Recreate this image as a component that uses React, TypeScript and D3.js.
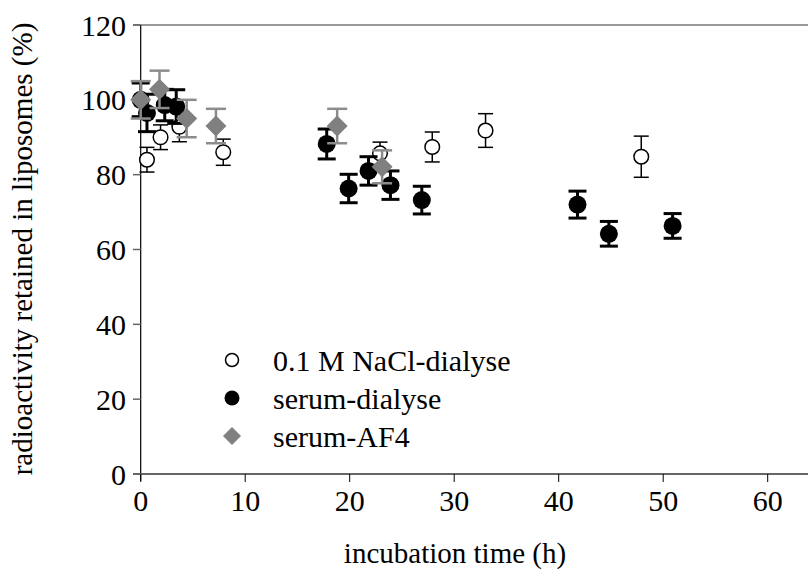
import React from "react";
import * as d3 from "d3";

const naclTime = [0.6, 1.9, 3.7, 7.9, 22.9, 27.9, 33, 47.9];
const naclValue = [84, 90, 92.8, 86, 85.7, 87.4, 91.8, 84.8];
const naclErr = [3.3, 3.3, 4, 3.5, 3, 4, 4.5, 5.5];

const serumTime = [0, 0.6, 2.3, 3.4, 17.8, 19.9, 21.8, 23.9, 26.9, 41.8, 44.8, 50.9];
const serumValue = [100, 96.5, 98.6, 98.2, 88.2, 76.3, 81, 77.2, 73.2, 72, 64.2, 66.3];
const serumErr = [4.5, 5, 4.2, 4.5, 4, 3.8, 3.8, 3.8, 3.7, 3.6, 3.3, 3.3];

const af4Time = [0, 1.8, 4.4, 7.2, 18.8, 23.1];
const af4Value = [100, 102.8, 95, 93, 93, 82.1];
const af4Err = [5, 5, 5, 4.6, 4.6, 4.4];

const xTicks = [0, 10, 20, 30, 40, 50, 60];
const yTicks = [0, 20, 40, 60, 80, 100, 120];
const legendLabels = ["0.1 M NaCl-dialyse", "serum-dialyse", "serum-AF4"];

const W = 808;
const H = 582;
const FONT = "'Liberation Serif', 'Times New Roman', serif";

export default function App() {
  const x = d3.scaleLinear().domain([0, 60]).range([140.7, 767.7]);
  const y = d3.scaleLinear().domain([0, 120]).range([474, 25]);

  const errBars = (
    t: number[],
    v: number[],
    e: number[],
    color: string,
    sw: number,
    cap: number,
    key: string
  ) =>
    t.map((ti, i) => {
      const cx = x(ti);
      const y1 = y(v[i] + e[i]);
      const y2 = y(v[i] - e[i]);
      return (
        <g key={key + i} stroke={color} strokeWidth={sw}>
          <line x1={cx} x2={cx} y1={y1} y2={y2} />
          <line x1={cx - cap} x2={cx + cap} y1={y1} y2={y1} />
          <line x1={cx - cap} x2={cx + cap} y1={y2} y2={y2} />
        </g>
      );
    });

  const diamond = (cx: number, cy: number, r: number) =>
    `M${cx},${cy - r}L${cx + r},${cy}L${cx},${cy + r}L${cx - r},${cy}Z`;

  const legendY = [360, 398, 436];

  return (
    <svg
      width={W}
      height={H}
      style={{ position: "absolute", left: 0, top: 0, background: "#fff" }}
      fontFamily={FONT}
    >
      {/* axes */}
      <line x1={133} x2={W} y1={y(120)} y2={y(120)} stroke="#777" strokeWidth={1.5} />
      <line x1={x(0)} x2={x(0)} y1={y(120)} y2={y(0) + 7} stroke="#000" strokeWidth={1.2} />
      {yTicks.map((t) => (
        <g key={"yt" + t}>
          <line x1={133} x2={x(0)} y1={y(t)} y2={y(t)} stroke="#666" strokeWidth={1.5} />
          <text x={126} y={y(t)} dy="0.35em" textAnchor="end" fontSize={30}>
            {t}
          </text>
        </g>
      ))}
      <line x1={133} x2={W} y1={y(0)} y2={y(0)} stroke="#666" strokeWidth={2} />
      {xTicks.map((t) => (
        <g key={"xt" + t}>
          <line x1={x(t)} x2={x(t)} y1={y(0)} y2={y(0) + 8} stroke="#000" strokeWidth={1} />
          <text x={x(t)} y={500} dy="0.35em" textAnchor="middle" fontSize={30}>
            {t}
          </text>
        </g>
      ))}
      <text x={455} y={553} dy="0.35em" textAnchor="middle" fontSize={29}>
        incubation time (h)
      </text>
      <text
        transform={`translate(22,249) rotate(-90)`}
        dy="0.35em"
        textAnchor="middle"
        fontSize={29}
      >
        radioactivity retained in liposomes (%)
      </text>

      {/* NaCl open circles */}
      {errBars(naclTime, naclValue, naclErr, "#000", 1.5, 7.5, "ne")}
      {naclTime.map((t, i) => (
        <circle key={"nc" + i} cx={x(t)} cy={y(naclValue[i])} r={7.3} fill="#fff" stroke="#000" strokeWidth={1.5} />
      ))}

      {/* serum black circles */}
      {errBars(serumTime, serumValue, serumErr, "#000", 3, 9, "se")}
      {serumTime.map((t, i) => (
        <circle key={"sc" + i} cx={x(t)} cy={y(serumValue[i])} r={9} fill="#000" />
      ))}

      {/* AF4 gray diamonds */}
      {errBars(af4Time, af4Value, af4Err, "#8c8c8c", 2.5, 10, "ae")}
      {af4Time.map((t, i) => (
        <path key={"ad" + i} d={diamond(x(t), y(af4Value[i]), 10.5)} fill="#808080" />
      ))}

      {/* legend */}
      <circle cx={232} cy={legendY[0]} r={6.5} fill="#fff" stroke="#000" strokeWidth={1.5} />
      <circle cx={232} cy={legendY[1]} r={7.5} fill="#000" />
      <path d={diamond(232, legendY[2], 9)} fill="#808080" />
      {legendLabels.map((l, i) => (
        <text key={"lg" + i} x={273} y={legendY[i]} dy="0.35em" fontSize={30}>
          {l}
        </text>
      ))}
    </svg>
  );
}
